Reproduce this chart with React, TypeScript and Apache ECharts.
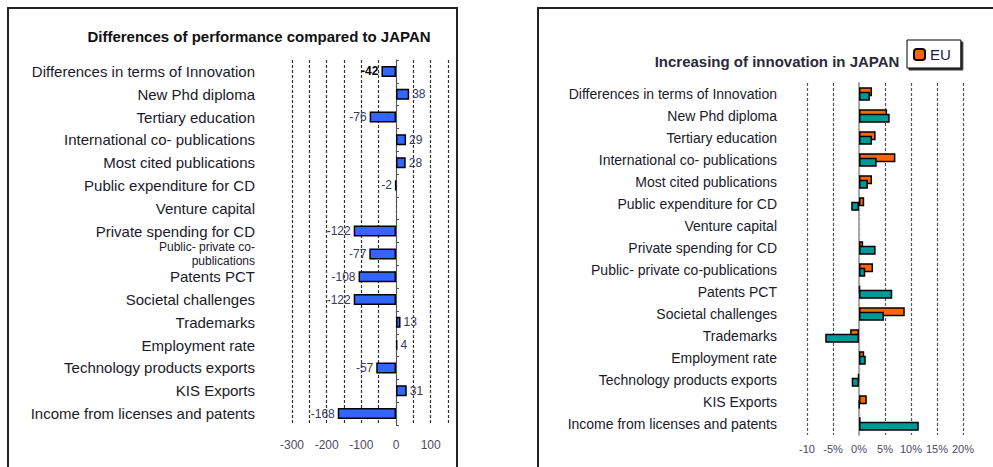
import React, { useEffect, useRef } from 'react';
import * as echarts from 'echarts';

const categoriesLeft = [
  'Differences in terms of Innovation',
  'New Phd diploma',
  'Tertiary education',
  'International co- publications',
  'Most cited publications',
  'Public expenditure for CD',
  'Venture capital',
  'Private spending for CD',
  'Public- private co-\npublications',
  'Patents PCT',
  'Societal challenges',
  'Trademarks',
  'Employment rate',
  'Technology products exports',
  'KIS Exports',
  'Income from licenses and patents',
];

const categoriesRight = [
  'Differences in terms of Innovation',
  'New Phd diploma',
  'Tertiary education',
  'International co- publications',
  'Most cited publications',
  'Public expenditure for CD',
  'Venture capital',
  'Private spending for CD',
  'Public- private co-publications',
  'Patents PCT',
  'Societal challenges',
  'Trademarks',
  'Employment rate',
  'Technology products exports',
  'KIS Exports',
  'Income from licenses and patents',
];

// Differences of performance compared to JAPAN
const diffJapan = [-42, 38, -76, 29, 28, -2, null, -122, -77, -108, -122, 13, 4, -57, 31, -168];

// Increasing of innovation (%)
const euGrowth = [2.5, 5.4, 3.2, 7.0, 2.5, 1.0, null, 0.8, 2.7, 0.2, 8.8, -1.7, 1.0, -0.2, 1.5, 0.3];
const japanGrowth = [2.1, 5.9, 2.5, 3.4, 1.7, -1.5, null, 3.2, 1.2, 6.4, 4.8, -6.5, 1.3, -1.4, 0.1, 11.5];

const leftTicks = [-300, -200, -100, 0, 100];
const leftTickLabels = ['-300', '-200', '-100', '0', '100'];
const rightTicks = [-10, -5, 0, 5, 10, 15, 20];
const rightTickLabels = ['-10', '-5%', '0%', '5%', '10%', '15%', '20%'];

const FONT = "'Liberation Sans', Arial, sans-serif";

export default function App() {
  const ref = useRef<HTMLDivElement>(null);

  useEffect(() => {
    if (!ref.current) return;
    const chart = echarts.init(ref.current, null, { renderer: 'svg' });

    const leftData = diffJapan.map((v, i) => {
      if (v === null) return { value: null };
      const item: any = {
        value: v,
        label: { position: v < 0 ? 'left' : 'right' },
      };
      if (i === 0) {
        item.label.fontWeight = 'bold';
        item.label.color = '#000';
      }
      return item;
    });

    const option: any = {
      animation: false,
      backgroundColor: '#fff',
      textStyle: { fontFamily: FONT },
      title: [
        {
          text: 'Differences of performance compared to JAPAN',
          left: 254,
          top: 24,
          textAlign: 'center',
          textStyle: { fontSize: 15, fontWeight: 'bold', color: '#111', fontFamily: FONT },
        },
        {
          text: 'Increasing of innovation in JAPAN',
          left: 772,
          top: 49,
          textAlign: 'center',
          textStyle: { fontSize: 15, fontWeight: 'bold', color: '#2a2a3a', fontFamily: FONT },
        },
      ],
      legend: {
        data: ['EU'],
        left: 907,
        top: 40,
        padding: [7, 10, 6, 6],
        itemWidth: 11,
        itemHeight: 11,
        itemGap: 5,
        borderColor: '#000',
        borderWidth: 1,
        backgroundColor: '#fff',
        shadowColor: 'rgba(0,0,0,0.8)',
        shadowOffsetX: 2,
        shadowOffsetY: 2,
        shadowBlur: 0,
        textStyle: { fontSize: 15, color: '#1a1a4a', fontFamily: FONT },
      },
      graphic: [
        {
          type: 'rect',
          shape: { x: 8, y: 8, width: 449, height: 480 },
          style: { fill: 'none', stroke: '#222', lineWidth: 2 },
          silent: true,
          z: -1,
        },
        {
          type: 'rect',
          shape: { x: 538, y: 8, width: 480, height: 480 },
          style: { fill: 'none', stroke: '#222', lineWidth: 2 },
          silent: true,
          z: -1,
        },
      ],
      grid: [
        { left: 292, width: 156, top: 60, height: 365, containLabel: false },
        { left: 807, width: 156, top: 83, height: 352, containLabel: false },
      ],
      xAxis: [
        {
          type: 'value',
          gridIndex: 0,
          min: -300,
          max: 150,
          interval: 50,
          axisLine: { show: false },
          axisTick: { show: false },
          splitLine: { show: true, lineStyle: { type: [3, 2], color: '#333', width: 1.2 } },
          axisLabel: {
            margin: 14,
            fontSize: 12,
            color: '#4a4a66',
            fontFamily: FONT,
            formatter: (v: number) => {
              const i = leftTicks.indexOf(v);
              return i >= 0 ? leftTickLabels[i] : '';
            },
          },
        },
        {
          type: 'value',
          gridIndex: 1,
          min: -10,
          max: 20,
          interval: 5,
          axisLine: { show: false },
          axisTick: { show: false },
          splitLine: { show: true, lineStyle: { type: [3, 2], color: '#555', width: 1.2 } },
          axisLabel: {
            margin: 8,
            fontSize: 11,
            color: '#4a4a66',
            fontFamily: FONT,
            formatter: (v: number) => {
              const i = rightTicks.indexOf(v);
              return i >= 0 ? rightTickLabels[i] : '';
            },
          },
        },
      ],
      yAxis: [
        {
          type: 'category',
          gridIndex: 0,
          data: categoriesLeft,
          inverse: true,
          position: 'left',
          axisLine: { show: false, onZero: false },
          axisTick: { show: false },
          axisLabel: {
            margin: 37,
            fontSize: 15,
            color: '#1a1a2a',
            fontFamily: FONT,
            formatter: (s: string) => (s.indexOf('\n') >= 0 ? `{m|${s}}` : s),
            rich: {
              m: { fontSize: 12, lineHeight: 13.5, color: '#1a1a2a', fontFamily: FONT, align: 'right' },
            },
          },
        },
        {
          type: 'category',
          gridIndex: 0,
          data: categoriesLeft,
          inverse: true,
          axisLine: { show: true, onZero: true, lineStyle: { color: '#555', width: 1 } },
          axisTick: { show: true, length: 3, lineStyle: { color: '#555' } },
          axisLabel: { show: false },
          splitLine: { show: false },
        },
        {
          type: 'category',
          gridIndex: 1,
          data: categoriesRight,
          inverse: true,
          position: 'left',
          axisLine: { show: false, onZero: false },
          axisTick: { show: false },
          axisLabel: {
            margin: 30,
            fontSize: 14,
            color: '#1a1a2a',
            fontFamily: FONT,
          },
        },
        {
          type: 'category',
          gridIndex: 1,
          data: categoriesRight,
          inverse: true,
          axisLine: { show: true, onZero: true, lineStyle: { color: '#aaa', width: 2 } },
          axisTick: { show: false },
          axisLabel: { show: false },
          splitLine: { show: false },
        },
      ],
      series: [
        {
          name: 'Differences',
          type: 'bar',
          xAxisIndex: 0,
          yAxisIndex: 0,
          barWidth: 11,
          data: leftData,
          itemStyle: { color: '#3366ff', borderColor: '#000', borderWidth: 1.5 },
          label: {
            show: true,
            distance: 3,
            fontSize: 12,
            color: '#3a3a5a',
            fontFamily: FONT,
          },
        },
        {
          name: 'EU',
          type: 'bar',
          xAxisIndex: 1,
          yAxisIndex: 2,
          barWidth: 9,
          barGap: '-50%',
          data: euGrowth,
          itemStyle: { color: '#ff6600', borderColor: '#000', borderWidth: 1.5 },
        },
        {
          name: 'JAPAN',
          type: 'bar',
          xAxisIndex: 1,
          yAxisIndex: 2,
          barWidth: 9,
          barGap: '-50%',
          data: japanGrowth,
          itemStyle: { color: '#009999', borderColor: '#000', borderWidth: 1.5 },
        },
      ],
    };

    chart.setOption(option);
    return () => {
      chart.dispose();
    };
  }, []);

  return (
    <div
      ref={ref}
      style={{ position: 'absolute', left: 0, top: 0, width: 993, height: 467, background: '#fff' }}
    />
  );
}
